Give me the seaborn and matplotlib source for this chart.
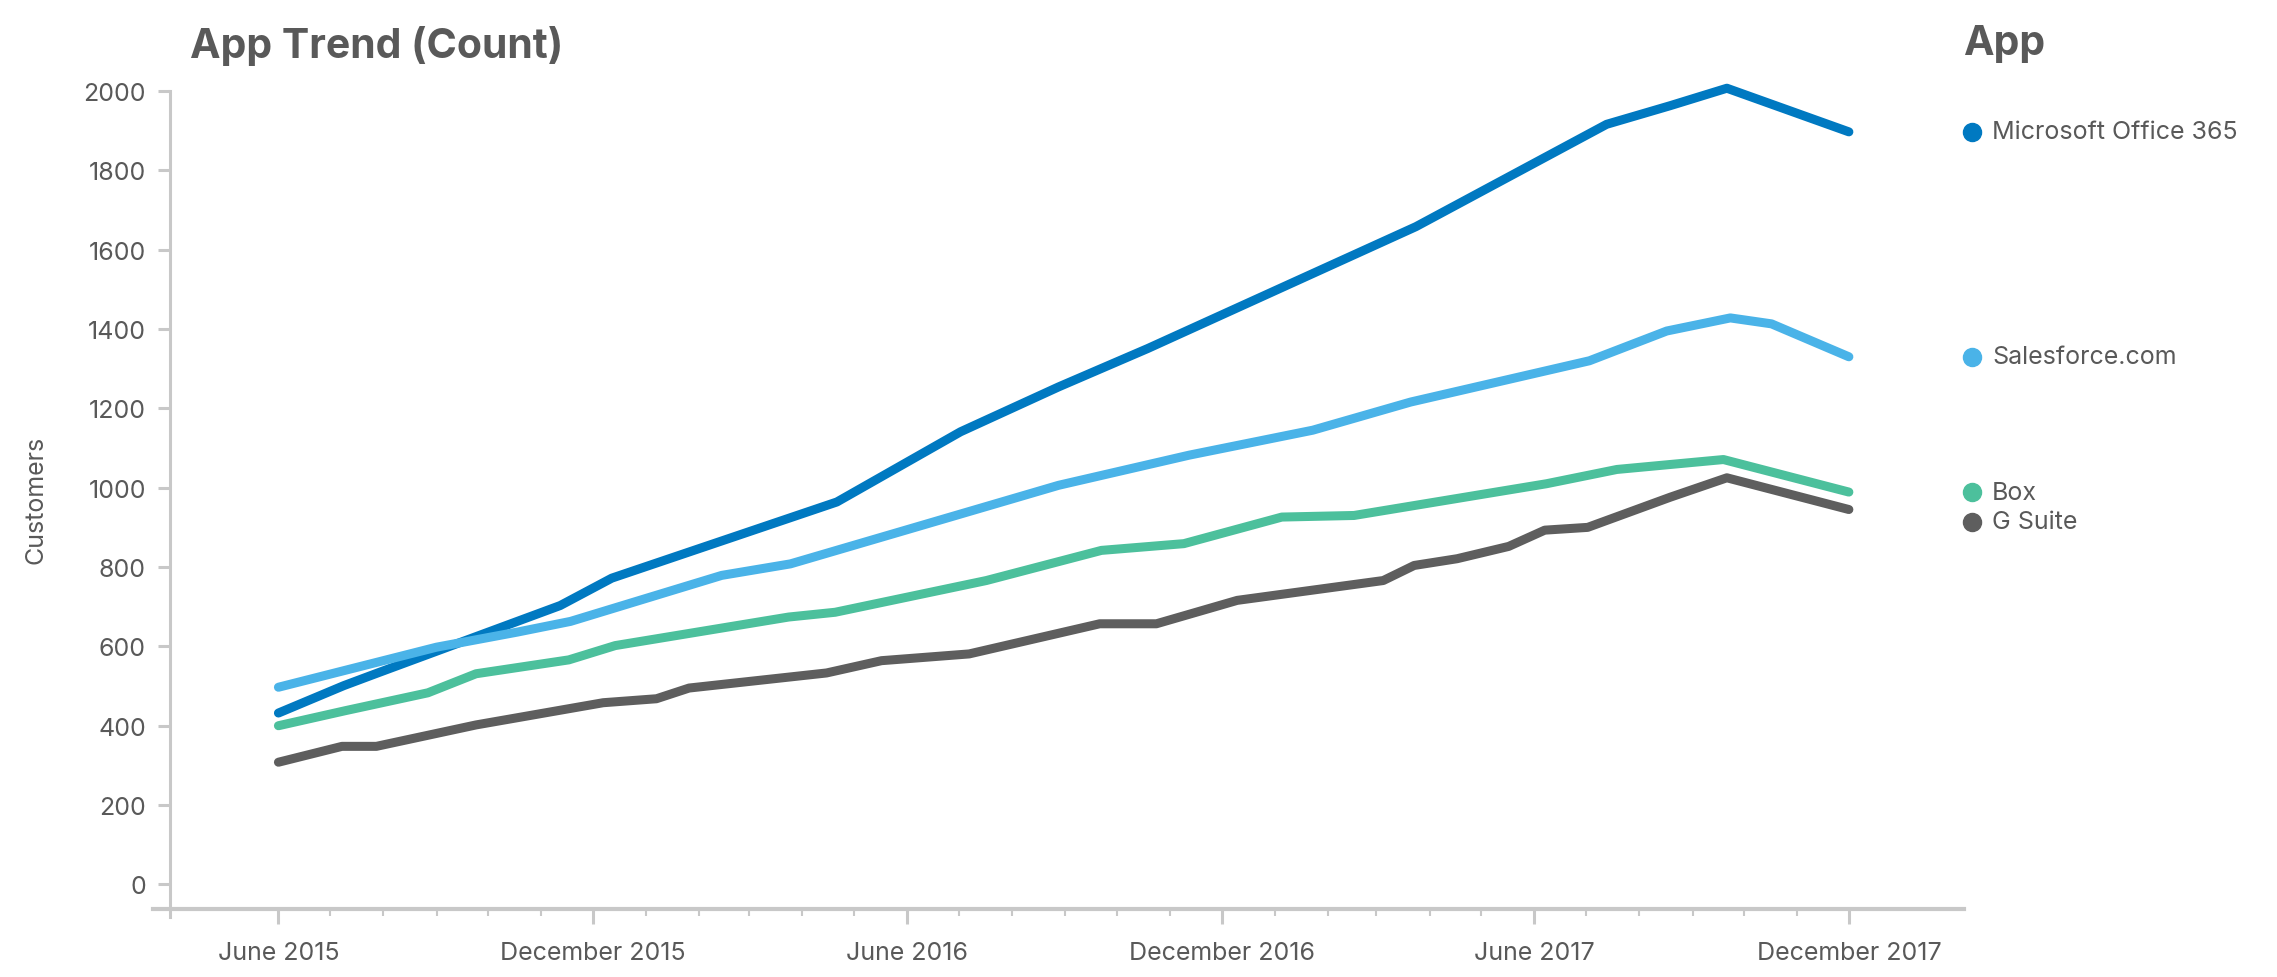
import matplotlib
matplotlib.use("Agg")
import matplotlib.pyplot as plt
import matplotlib.dates as mdates
import matplotlib.transforms as mtransforms
from matplotlib.ticker import FixedLocator, FuncFormatter
import seaborn as sns
import pandas as pd

# ---------------- data ----------------
apps = ["Microsoft Office 365", "Salesforce.com", "Box", "G Suite"]
colors = ["#0079C1", "#4AB3E8", "#4CC09C", "#5E5E5E"]

ms_dates = ["2015-06-01", "2015-07-09", "2015-07-30", "2015-11-12", "2015-12-12",
            "2016-04-21", "2016-07-02", "2016-08-28", "2016-10-19", "2017-03-24",
            "2017-07-13", "2017-08-19", "2017-09-21", "2017-12-01"]
ms_values = [432, 501, 535, 703, 772, 964, 1141, 1254, 1351, 1658, 1916, 1963, 2007, 1897]

sf_dates = ["2015-06-01", "2015-09-01", "2015-10-18", "2015-11-18", "2016-02-14",
            "2016-03-25", "2016-08-28", "2016-11-12", "2017-01-23", "2017-03-21",
            "2017-07-03", "2017-08-17", "2017-09-23", "2017-10-17", "2017-12-01"]
sf_values = [497, 598, 636, 663, 779, 808, 1006, 1082, 1145, 1216, 1320, 1395, 1428, 1413, 1330]

box_dates = ["2015-06-01", "2015-07-10", "2015-08-27", "2015-09-24", "2015-11-17",
             "2015-12-14", "2016-03-24", "2016-04-20", "2016-07-17", "2016-09-22",
             "2016-11-09", "2017-01-05", "2017-02-16", "2017-06-08", "2017-07-19",
             "2017-09-19", "2017-12-01"]
box_values = [400, 438, 483, 531, 566, 602, 674, 686, 766, 842, 859, 926, 930, 1010, 1046, 1071, 989]

gs_dates = ["2015-06-01", "2015-07-08", "2015-07-28", "2015-09-24", "2015-12-07",
            "2016-01-07", "2016-01-26", "2016-04-15", "2016-05-17", "2016-07-07",
            "2016-09-21", "2016-10-24", "2016-12-10", "2017-03-05", "2017-03-23",
            "2017-04-17", "2017-05-17", "2017-06-07", "2017-07-02", "2017-08-19",
            "2017-09-21", "2017-12-01"]
gs_values = [308, 348, 348, 402, 458, 468, 495, 533, 564, 581, 657, 657, 716, 766, 804,
             821, 852, 893, 900, 976, 1025, 945]

y_ticks = [0, 200, 400, 600, 800, 1000, 1200, 1400, 1600, 1800, 2000]

series = [(apps[0], ms_dates, ms_values), (apps[1], sf_dates, sf_values),
          (apps[2], box_dates, box_values), (apps[3], gs_dates, gs_values)]
df = pd.concat([pd.DataFrame({"Date": pd.to_datetime(d), "Customers": v, "App": a})
                for a, d, v in series], ignore_index=True)

# ---------------- style ----------------
sns.set_theme(style="white")
plt.rcParams["font.family"] = ["Inter", "DejaVu Sans"]
TXT = "#595959"
AX = "#C8C8C8"
FS = 18

W, H = 2277, 978
fig = plt.figure(figsize=(W / 100, H / 100), dpi=100)
ax = fig.add_axes([153 / W, (H - 910.4) / H, (1964 - 153) / W, (910.4 - 92) / H])

sns.lineplot(data=df, x="Date", y="Customers", hue="App", hue_order=apps,
             palette=dict(zip(apps, colors)), linewidth=6.5, ax=ax, legend=False,
             estimator=None, sort=True)
for ln in ax.lines:
    ln.set_solid_capstyle("round")
    ln.set_solid_joinstyle("round")
    ln.set_clip_on(False)

YMIN = -63
ax.set_xlim(pd.Timestamp("2015-03-20"), pd.Timestamp("2018-02-06"))
ax.set_ylim(YMIN, 2000)

# spines
for s in ["top", "right"]:
    ax.spines[s].set_visible(False)
ax.spines["left"].set_position(("data", mdates.date2num(pd.Timestamp("2015-03-30"))))
ax.spines["left"].set_bounds(YMIN - 20, 2000)
ax.spines["left"].set_color(AX)
ax.spines["left"].set_linewidth(2.2)
ax.spines["bottom"].set_color(AX)
ax.spines["bottom"].set_linewidth(3)

# x ticks
months = pd.date_range("2015-06-01", "2017-12-01", freq="MS")
major = [m for m in months if m.month in (6, 12)]
minor = [m for m in months if m.month not in (6, 12)]
ax.xaxis.set_major_locator(FixedLocator(mdates.date2num(major)))
ax.xaxis.set_minor_locator(FixedLocator(mdates.date2num(minor)))
ax.xaxis.set_major_formatter(FuncFormatter(lambda v, p: mdates.num2date(v).strftime("%B %Y")))
ax.tick_params(axis="x", which="both", bottom=True)
ax.tick_params(axis="x", which="major", direction="out", length=10.5, width=2.2,
               color=AX, labelsize=FS, labelcolor=TXT, pad=12)
ax.tick_params(axis="x", which="minor", direction="out", length=5, width=1.5, color=AX)

# y ticks
ax.set_yticks(y_ticks)
ax.tick_params(axis="y", which="major", left=True, direction="out", length=8.5, width=2.2,
               color=AX, labelsize=FS, labelcolor=TXT, pad=9)
ax.set_xlabel("")
ax.set_ylabel("")
ax.grid(False)
fig.text(36 / W, (H - 500) / H, "Customers", rotation=90, fontsize=FS, color=TXT,
         ha="center", va="center")

# title
fig.text(190 / W, 1 - 46 / H, "App Trend (Count)", fontsize=29.5, fontweight="bold",
         color=TXT, va="center", ha="left")
fig.text(1963 / W, 1 - 44 / H, "App", fontsize=29.5, fontweight="bold",
         color=TXT, va="center", ha="left")

# end-of-line legend
blend = mtransforms.blended_transform_factory(fig.transFigure, ax.transData)
ends = [(a, v[-1], c) for (a, d, v), c in zip(series, colors)]
ends_sorted = sorted(ends, key=lambda t: -t[1])
placed = []
prev = None
for a, v, c in ends_sorted:
    y = v if prev is None else min(v, prev - 75)
    placed.append((a, y, c))
    prev = y
for a, y, c in placed:
    ax.plot([1972 / W], [y], marker="o", markersize=13, color=c, transform=blend,
            clip_on=False, linestyle="none")
    ax.text(1992 / W, y, a, transform=blend, fontsize=FS, color=TXT,
            va="center", ha="left", clip_on=False)

fig.savefig("out.png", dpi=100)
